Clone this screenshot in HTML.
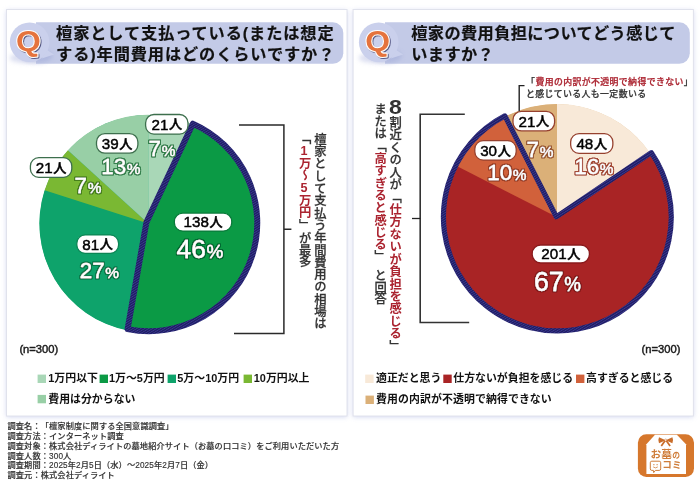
<!DOCTYPE html>
<html lang="ja">
<head>
<meta charset="utf-8">
<title>檀家の費用に関する調査</title>
<style>
html,body{margin:0;padding:0;background:#fff;}
body{width:700px;height:485px;overflow:hidden;position:relative;text-spacing-trim:space-all;font-family:"Liberation Sans","Noto Sans CJK JP",sans-serif;color:#000;}
.art{position:absolute;left:0;top:0;font-family:"Liberation Sans","Noto Sans CJK JP",sans-serif;}
.t{position:absolute;white-space:nowrap;line-height:1;}
.ttl{font-weight:700;font-size:16.2px;letter-spacing:0.9px;-webkit-text-stroke:0.2px #111;line-height:21.2px;color:#111;}
.pl{font-weight:500;fill:#000;stroke:#000;stroke-width:0.45px;}
.pc{font-weight:400;fill:#fff;stroke:#fff;stroke-width:0.3px;stroke-linejoin:round;}
.v{position:absolute;writing-mode:vertical-rl;white-space:nowrap;font-size:12.3px;line-height:15.2px;color:#333;font-weight:500;letter-spacing:0;text-orientation:upright;}
.v i{font-style:normal;letter-spacing:-1.3px;}
.v u{text-decoration:none;letter-spacing:-0.7px;}
.v s{text-decoration:none;text-combine-upright:all;font-size:12.6px;}
.v{-webkit-text-stroke:0.25px #333;}
.v b{-webkit-text-stroke:0;}
.v b{color:#ab2430;font-weight:700;}
.v .e{font-size:20px;font-weight:700;letter-spacing:-1.8px;display:inline-block;transform:scaleX(1.15);-webkit-text-stroke:0;}
.lg{font-weight:700;font-size:10.9px;color:#111;}
.n{font-size:11.2px;color:#1c1c1c;font-weight:500;-webkit-text-stroke:0.45px #1c1c1c;}
.ft{position:absolute;left:7.5px;top:422.2px;font-size:8.2px;line-height:9.8px;color:#333;font-weight:500;-webkit-text-stroke:0.15px #333;letter-spacing:0.12px;white-space:nowrap;}
.an{font-size:8.9px;letter-spacing:0.4px;color:#333;font-weight:500;-webkit-text-stroke:0.25px #333;}
.an b{font-weight:500;color:#ab2430;-webkit-text-stroke:0.25px #ab2430;}
.lgo{font-weight:700;color:#cf7d3a;}
</style>
</head>
<body>
<svg class="art" width="700" height="485" viewBox="0 0 700 485"><defs>
<filter id="blur2" x="-5%" y="-5%" width="110%" height="112%"><feGaussianBlur stdDeviation="2.4"/><feOffset dy="1.2"/></filter>
<filter id="blur1" x="-30%" y="-50%" width="160%" height="200%"><feGaussianBlur stdDeviation="2"/></filter>
<filter id="qs" x="-20%" y="-20%" width="150%" height="150%"><feDropShadow dx="0.9" dy="0.9" stdDeviation="0.25" flood-color="#3a3d6e" flood-opacity="0.9"/></filter>
<filter id="g1" x="-10%" y="-20%" width="120%" height="140%"><feMorphology in="SourceAlpha" operator="dilate" radius="1"/><feGaussianBlur stdDeviation="0.45"/><feComponentTransfer result="d"><feFuncA type="linear" slope="2.2"/></feComponentTransfer><feFlood flood-color="#35804d"/><feComposite operator="in" in2="d"/><feMerge><feMergeNode/><feMergeNode in="SourceGraphic"/></feMerge></filter><filter id="g2" x="-10%" y="-20%" width="120%" height="140%"><feMorphology in="SourceAlpha" operator="dilate" radius="1"/><feGaussianBlur stdDeviation="0.45"/><feComponentTransfer result="d"><feFuncA type="linear" slope="2.2"/></feComponentTransfer><feFlood flood-color="#47801c"/><feComposite operator="in" in2="d"/><feMerge><feMergeNode/><feMergeNode in="SourceGraphic"/></feMerge></filter><filter id="g3" x="-10%" y="-20%" width="120%" height="140%"><feMorphology in="SourceAlpha" operator="dilate" radius="1"/><feGaussianBlur stdDeviation="0.45"/><feComponentTransfer result="d"><feFuncA type="linear" slope="2.2"/></feComponentTransfer><feFlood flood-color="#077848"/><feComposite operator="in" in2="d"/><feMerge><feMergeNode/><feMergeNode in="SourceGraphic"/></feMerge></filter><filter id="g4" x="-10%" y="-20%" width="120%" height="140%"><feMorphology in="SourceAlpha" operator="dilate" radius="1"/><feGaussianBlur stdDeviation="0.45"/><feComponentTransfer result="d"><feFuncA type="linear" slope="2.2"/></feComponentTransfer><feFlood flood-color="#056b30"/><feComposite operator="in" in2="d"/><feMerge><feMergeNode/><feMergeNode in="SourceGraphic"/></feMerge></filter><filter id="b1" x="-10%" y="-20%" width="120%" height="140%"><feMorphology in="SourceAlpha" operator="dilate" radius="1"/><feGaussianBlur stdDeviation="0.45"/><feComponentTransfer result="d"><feFuncA type="linear" slope="2.2"/></feComponentTransfer><feFlood flood-color="#9a5a34"/><feComposite operator="in" in2="d"/><feMerge><feMergeNode/><feMergeNode in="SourceGraphic"/></feMerge></filter><filter id="b2" x="-10%" y="-20%" width="120%" height="140%"><feMorphology in="SourceAlpha" operator="dilate" radius="1"/><feGaussianBlur stdDeviation="0.45"/><feComponentTransfer result="d"><feFuncA type="linear" slope="2.2"/></feComponentTransfer><feFlood flood-color="#9a3f26"/><feComposite operator="in" in2="d"/><feMerge><feMergeNode/><feMergeNode in="SourceGraphic"/></feMerge></filter><filter id="b3" x="-10%" y="-20%" width="120%" height="140%"><feMorphology in="SourceAlpha" operator="dilate" radius="1"/><feGaussianBlur stdDeviation="0.45"/><feComponentTransfer result="d"><feFuncA type="linear" slope="2.2"/></feComponentTransfer><feFlood flood-color="#a54c38"/><feComposite operator="in" in2="d"/><feMerge><feMergeNode/><feMergeNode in="SourceGraphic"/></feMerge></filter><filter id="b4" x="-10%" y="-20%" width="120%" height="140%"><feMorphology in="SourceAlpha" operator="dilate" radius="1"/><feGaussianBlur stdDeviation="0.45"/><feComponentTransfer result="d"><feFuncA type="linear" slope="2.2"/></feComponentTransfer><feFlood flood-color="#861a1b"/><feComposite operator="in" in2="d"/><feMerge><feMergeNode/><feMergeNode in="SourceGraphic"/></feMerge></filter>
<pattern id="hatch" width="2.1" height="2.1" patternUnits="userSpaceOnUse" patternTransform="rotate(58)"><rect width="2.1" height="2.1" fill="#1f1d62"/><rect width="0.8" height="2.1" fill="#3b3992"/></pattern>
</defs><rect x="6.5" y="9.5" width="340.5" height="406.5" fill="#b4bce6" opacity="0.62" filter="url(#blur2)"/><rect x="6.5" y="9.5" width="340.5" height="406.5" fill="#fff" stroke="#e0e2ec" stroke-width="1"/><rect x="353.1" y="9.5" width="340.3" height="406.5" fill="#b4bce6" opacity="0.62" filter="url(#blur2)"/><rect x="353.1" y="9.5" width="340.3" height="406.5" fill="#fff" stroke="#e0e2ec" stroke-width="1"/><path d="M36,22.3H332.8a10.5,10.5 0 0 1 10.5,10.5V53.3a10.5,10.5 0 0 1 -10.5,10.5H36Z" fill="#c3cae7"/><ellipse cx="36.6" cy="56" rx="16" ry="7" fill="#aab3dc" opacity="0.75" filter="url(#blur1)"/><ellipse cx="23.6" cy="58" rx="14" ry="5" fill="#c6cbe8" opacity="0.6" filter="url(#blur1)"/><path d="M47.1,50 L54.1,54.6 L41.6,58.5Z" fill="#cad0ec"/><circle cx="29.6" cy="42.2" r="19.8" fill="#cad0ec"/><g transform="translate(28.5,51.2) scale(1.06,1)"><text text-anchor="middle" font-size="30.1" font-weight="700" fill="#e5733c" stroke="#fff" stroke-width="2" paint-order="stroke" stroke-linejoin="round" filter="url(#qs)">Q</text></g><path d="M385,22.3H679.3a10.5,10.5 0 0 1 10.5,10.5V53.3a10.5,10.5 0 0 1 -10.5,10.5H385Z" fill="#c3cae7"/><ellipse cx="385.7" cy="56" rx="16" ry="7" fill="#aab3dc" opacity="0.75" filter="url(#blur1)"/><ellipse cx="372.7" cy="58" rx="14" ry="5" fill="#c6cbe8" opacity="0.6" filter="url(#blur1)"/><path d="M396.2,50 L403.2,54.6 L390.7,58.5Z" fill="#cad0ec"/><circle cx="378.7" cy="42.2" r="19.8" fill="#cad0ec"/><g transform="translate(377.59999999999997,51.2) scale(1.06,1)"><text text-anchor="middle" font-size="30.1" font-weight="700" fill="#e5733c" stroke="#fff" stroke-width="2" paint-order="stroke" stroke-linejoin="round" filter="url(#qs)">Q</text></g><circle cx="148.2" cy="223.6" r="108.5" fill="#0ea36b"/><path d="M148.20,223.60L148.20,114.80A108.80,108.80 0 0 1 194.52,125.15Z" fill="#a9d7b7"/><path d="M148.20,223.60L127.81,330.47A108.80,108.80 0 0 1 44.61,190.34Z" fill="#0ea36b"/><path d="M148.20,223.60L44.61,190.34A108.80,108.80 0 0 1 67.86,150.24Z" fill="#7ab833"/><path d="M148.20,223.60L67.86,150.24A108.80,108.80 0 0 1 148.20,114.80Z" fill="#98cfa6"/><path d="M146.40,222.40L192.84,123.71A108.40,108.40 0 0 1 127.59,329.08Z" fill="#0b9a45" stroke="url(#hatch)" stroke-width="6.0" stroke-linejoin="round"/><circle cx="557.0" cy="217.0" r="112.7" fill="#dbb078"/><path d="M557.00,217.00L557.00,104.00A113.00,113.00 0 0 1 650.68,153.81Z" fill="#f8e9d8"/><path d="M557.00,217.00L505.70,116.32A113.00,113.00 0 0 1 557.00,104.00Z" fill="#dbb078"/><path d="M556.30,216.80L651.35,152.69A113.90,113.90 0 1 1 504.89,115.90Z" fill="#a92425"/><path d="M556.30,216.80L455.73,165.56A113.90,113.90 0 0 1 504.89,115.90Z" fill="#d1613b"/><path d="M556.30,216.80L651.35,152.69A113.90,113.90 0 1 1 504.89,115.90Z" fill="none" stroke="url(#hatch)" stroke-width="5.2" stroke-linejoin="round"/><path d="M239,125H283.900V333.5H234M283.9,229.300H291.4" fill="none" stroke="#2a2a2a" stroke-width="1.5"/><path d="M464.800,114.3H420.2V322.5H469.2" fill="none" stroke="#333" stroke-width="1.6"/><path d="M420.2,218.5H412" fill="none" stroke="#222" stroke-width="1.3"/><path d="M524.5,85.600H519.2V112" fill="none" stroke="#222" stroke-width="1.4"/><rect x="37.6" y="374.6" width="8.4" height="8.4" fill="#a9d7b7"/><rect x="99.6" y="374.6" width="8.4" height="8.4" fill="#0b9a45"/><rect x="167.6" y="374.6" width="8.4" height="8.4" fill="#0ea36b"/><rect x="243.6" y="374.6" width="8.4" height="8.4" fill="#7ab833"/><rect x="37.6" y="394.9" width="8.4" height="8.4" fill="#98cfa6"/><rect x="365.2" y="374.6" width="8.4" height="8.4" fill="#f8e9d8"/><rect x="443.3" y="374.6" width="8.4" height="8.4" fill="#a92425"/><rect x="576" y="374.6" width="8.4" height="8.4" fill="#d1613b"/><rect x="365.5" y="395.6" width="8.4" height="8.4" fill="#dbb078"/><rect x="145.60" y="114.50" width="42.4" height="19.6" rx="8.4" fill="#fff" stroke="#3d6f4d" stroke-width="1.3"/><text class="pl" x="166.8" y="129.70" text-anchor="middle" font-size="15.2">21<tspan font-size="13.2" dx="0.6" dy="-0.3">人</tspan></text><g transform="translate(148.6,156.2) scale(1.01,1)"><text class="pc" font-size="22.2" filter="url(#g1)">7<tspan font-size="15.3" dx="0.6">%</tspan></text></g><rect x="96.50" y="133.60" width="41.4" height="19.6" rx="8.4" fill="#fff" stroke="#3d6f4d" stroke-width="1.3"/><text class="pl" x="117.2" y="148.80" text-anchor="middle" font-size="15.2">39<tspan font-size="13.2" dx="0.6" dy="-0.3">人</tspan></text><g transform="translate(101.3,174.2) scale(1.01,1)"><text class="pc" font-size="22.2" filter="url(#g1)">13<tspan font-size="15.3" dx="0.6">%</tspan></text></g><rect x="30.40" y="157.70" width="41.4" height="19.6" rx="8.4" fill="#fff" stroke="#3d6f4d" stroke-width="1.3"/><text class="pl" x="51.1" y="172.90" text-anchor="middle" font-size="15.2">21<tspan font-size="13.2" dx="0.6" dy="-0.3">人</tspan></text><g transform="translate(74.6,193.4) scale(1.01,1)"><text class="pc" font-size="22.2" filter="url(#g2)">7<tspan font-size="15.3" dx="0.6">%</tspan></text></g><rect x="76.80" y="234.90" width="41.8" height="18.4" rx="8.4" fill="#fff" stroke="#0b8554" stroke-width="1.3"/><text class="pl" x="97.7" y="249.50" text-anchor="middle" font-size="15.2">81<tspan font-size="13.2" dx="0.6" dy="-0.3">人</tspan></text><g transform="translate(79.8,278.3) scale(1.01,1)"><text class="pc" font-size="22.2" filter="url(#g3)">27<tspan font-size="15.3" dx="0.6">%</tspan></text></g><rect x="174.35" y="213.05" width="57.4" height="18" rx="8.4" fill="#fff" stroke="#0a7a3a" stroke-width="1.3"/><text class="pl" x="203.05" y="227.45" text-anchor="middle" font-size="15.2">138<tspan font-size="13.2" dx="0.6" dy="-0.3">人</tspan></text><g transform="translate(176.6,257.6) scale(1.0,1)"><text class="pc" font-size="26.3" filter="url(#g4)">46<tspan font-size="18.9" dx="0.6">%</tspan></text></g><rect x="513.00" y="111.30" width="41.6" height="19.6" rx="8.4" fill="#fff" stroke="#96412f" stroke-width="1.3"/><text class="pl" x="533.8" y="126.50" text-anchor="middle" font-size="15.2">21<tspan font-size="13.2" dx="0.6" dy="-0.3">人</tspan></text><g transform="translate(526.6,156.8) scale(1.01,1)"><text class="pc" font-size="22.2" filter="url(#b1)">7<tspan font-size="15.3" dx="0.6">%</tspan></text></g><rect x="474.80" y="140.70" width="41.4" height="19.4" rx="8.4" fill="#fff" stroke="#96412f" stroke-width="1.3"/><text class="pl" x="495.5" y="155.80" text-anchor="middle" font-size="15.2">30<tspan font-size="13.2" dx="0.6" dy="-0.3">人</tspan></text><g transform="translate(487.2,180.2) scale(1.01,1)"><text class="pc" font-size="22.2" filter="url(#b2)">10<tspan font-size="15.3" dx="0.6">%</tspan></text></g><rect x="570.65" y="133.65" width="42.2" height="19.7" rx="8.4" fill="#fff" stroke="#96412f" stroke-width="1.3"/><text class="pl" x="591.75" y="148.90" text-anchor="middle" font-size="15.2">48<tspan font-size="13.2" dx="0.6" dy="-0.3">人</tspan></text><g transform="translate(574.3,174.4) scale(1.01,1)"><text class="pc" font-size="22.2" filter="url(#b3)">16<tspan font-size="15.3" dx="0.6">%</tspan></text></g><rect x="532.20" y="245.00" width="57.2" height="18" rx="8.4" fill="#fff" stroke="#8a1a1c" stroke-width="1.3"/><text class="pl" x="560.8" y="259.40" text-anchor="middle" font-size="15.2">201<tspan font-size="13.2" dx="0.6" dy="-0.3">人</tspan></text><g transform="translate(533.9,290.8) scale(0.97,1)"><text class="pc" font-size="27.6" filter="url(#b4)">67<tspan font-size="19.3" dx="0.6">%</tspan></text></g><g>
<rect x="637.9" y="434.3" width="56.1" height="42.6" rx="8.5" fill="#d6772c"/>
<path d="M655,434.8H676.9L686,444.3V474.1H646.4V444.3Z" fill="#fff"/>
<path d="M665.7,440.2L659,437.2Q657.6,440.2 659,443.2ZM665.7,440.2L672.4,437.2Q673.800,440.2 672.4,443.2Z" fill="#c96d2a"/>
<path d="M665.2,440.5L661.3,446M666.2,440.500L670.1,446" fill="none" stroke="#c96d2a" stroke-width="1.7"/>
<circle cx="665.7" cy="440.1" r="1.1" fill="#fff" stroke="#c96d2a" stroke-width="0.5"/>
<path d="M651.8,461.2h7.400a1.5,1.5 0 0 1 1.500,1.500v6.200a1.5,1.500 0 0 1 -1.5,1.5h-3.800l-1.700,2.200l-0.300,-2.200h-1.600a1.5,1.5 0 0 1 -1.5,-1.500v-6.200a1.5,1.500 0 0 1 1.500,-1.500z" fill="none" stroke="#cf7d3a" stroke-width="1"/>
<circle cx="653.9" cy="464.700" r="0.65" fill="#cf7d3a"/><circle cx="657.100" cy="464.7" r="0.65" fill="#cf7d3a"/>
<path d="M653.2,466.9q2.300,2 4.600,0" fill="none" stroke="#cf7d3a" stroke-width="0.8"/>
</g></svg>
<div class="t ttl" style="left:56.1px;top:22.9px;">檀家として支払っている(または想定<br>する)年間費用はどのくらいですか？</div>
<div class="t ttl" style="left:411.3px;top:22.9px;letter-spacing:0.38px;">檀家の費用負担についてどう感じて<br>いますか？</div>
<div class="v" style="left:311.2px;top:133.0px;">檀家として支払う年間費用の相場は</div>
<div class="v" style="left:295.9px;top:132.4px;">「<b><s>1</s>万〜<s>5</s>万円</b><i style="letter-spacing:1.1px">」</i><u>が最多</u></div>
<div class="v" style="left:386.5px;top:95.6px;"><span class="e">8</span><span style="letter-spacing:0.12px">割近くの人が「<b>仕方ないが負担を感じる</b>」</span></div>
<div class="v" style="left:371.4px;top:102.8px;">または「<b>高すぎると感じる</b><i style="letter-spacing:6.5px">」</i><u>と回答</u></div>
<div class="t n" style="left:19.4px;top:344.1px;">(n=300)</div>
<div class="t n" style="left:641.5px;top:344.1px;">(n=300)</div>
<div class="t lg" style="left:48.3px;top:373.3px;">1万円以下</div>
<div class="t lg" style="left:109px;top:373.3px;">1万〜5万円</div>
<div class="t lg" style="left:177.3px;top:373.3px;">5万〜10万円</div>
<div class="t lg" style="left:253.8px;top:373.3px;">10万円以上</div>
<div class="t lg" style="left:48.3px;top:393.7px;">費用は分からない</div>
<div class="t lg" style="left:376px;top:373.3px;">適正だと思う</div>
<div class="t lg" style="left:453.3px;top:373.3px;">仕方ないが負担を感じる</div>
<div class="t lg" style="left:586px;top:373.3px;">高すぎると感じる</div>
<div class="t lg" style="left:376px;top:393.7px;letter-spacing:0.1px;">費用の内訳が不透明で納得できない</div>
<div class="t an" style="left:526.1px;top:77.6px;">「<b>費用の内訳が不透明で納得できない</b>」</div>
<div class="t an" style="left:525.9px;top:89.7px;">と感じている人も一定数いる</div>
<div class="ft">調査名：「檀家制度に関する全国意識調査」<br>調査方法：インターネット調査<br>調査対象：株式会社ディライトの墓地紹介サイト（お墓の口コミ）をご利用いただいた方<br>調査人数：300人<br>調査期間：2025年2月5日（水）〜2025年2月7日（金）<br>調査元：株式会社ディライト</div>
<div class="t lgo" style="left:650.4px;top:449.2px;font-size:10.7px;letter-spacing:0.2px;">お墓<span style="font-size:7.8px">の</span></div>
<div class="t lgo" style="left:662.2px;top:460.3px;font-size:9.6px;letter-spacing:0.2px;">コミ</div>
</body>
</html>
